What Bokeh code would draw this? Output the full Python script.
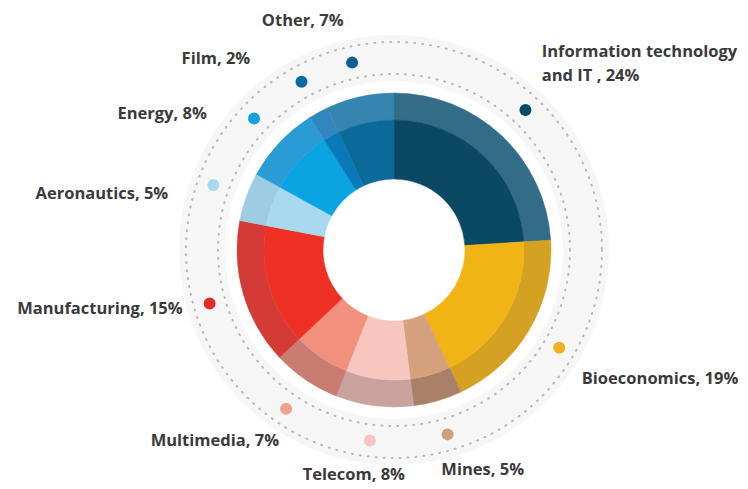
import math
from bokeh.plotting import figure
from bokeh.models import Range1d, ColumnDataSource
from bokeh.core.properties import value
from bokeh.embed import file_html
from bokeh.resources import INLINE

# ---- data ----
sectors = ["Information technology\nand IT", "Bioeconomics", "Mines", "Telecom", "Multimedia",
           "Manufacturing", "Aeronautics", "Energy", "Film", "Other"]
shares = [24, 19, 5, 8, 7, 15, 5, 8, 2, 7]
inner_colors = ["#0a4864", "#f0b514", "#d5a07c", "#f8c6bf", "#f1917d",
                "#ee3124", "#a9d9ef", "#0aa4e2", "#0a79b9", "#0c6a9b"]
outer_colors = ["#336c87", "#d5a122", "#a98068", "#c9a29e", "#c97c72",
                "#d43b36", "#9ecde2", "#2b9bd5", "#3086bd", "#3685b1"]
dot_colors = ["#0b4a66", "#f0b11e", "#caa07f", "#f7c6c2", "#f0a090",
              "#e02c2a", "#a9d9ef", "#14a0e0", "#0b6aa2", "#0c5f8b"]

# ---- layout (label placement tweaks, not data) ----
label_nudge_deg = [-5, 3.6, 4, 3, -3, 1, -5.5, -7, -8, -9]
label_radius = [239, 227, 224, 227, 222, 219, 233, 232, 240, 248]
label_align = ["left", "left", "left", "center", "right", "right", "right", "right", "right", "center"]

W, H = 748, 489
cx, cy = 393.5, 249.5
R_IN, R_MID, R_OUT = 71, 130, 157
R_DOT = 192

total = sum(shares)
starts, ends, mids = [], [], []
acc = 0.0
for s in shares:
    a0 = acc / total * 360.0
    acc += s
    a1 = acc / total * 360.0
    starts.append(math.radians(90 - a0))
    ends.append(math.radians(90 - a1))
    mids.append((a0 + a1) / 2)

p = figure(width=W, height=H, output_backend="svg", toolbar_location=None,
           x_range=Range1d(-cx, W - cx), y_range=Range1d(-(H - cy), cy),
           min_border=0, outline_line_color=None, background_fill_color="white")
p.axis.visible = False
p.grid.visible = False

# light band and dotted rings
p.annulus(x=0, y=0, inner_radius=169, outer_radius=215, fill_color="#f6f6f6", line_color=None)
for r in (176, 208):
    p.circle(x=0, y=0, radius=r, fill_color=None, line_color="#b8b8b8",
             line_width=2, line_dash="1 7", line_cap="round")

src = ColumnDataSource(dict(start=starts, end=ends, inner=inner_colors, outer=outer_colors))
p.annular_wedge(x=0, y=0, inner_radius=R_MID, outer_radius=R_OUT, start_angle="start",
                end_angle="end", direction="clock", fill_color="outer", line_color="outer",
                line_width=0.5, source=src)
p.annular_wedge(x=0, y=0, inner_radius=R_IN, outer_radius=R_MID, start_angle="start",
                end_angle="end", direction="clock", fill_color="inner", line_color="inner",
                line_width=0.5, source=src)

# dots and labels
dx, dy, lx, ly, txt = [], [], [], [], []
for name, s, m, nd, lr in zip(sectors, shares, mids, label_nudge_deg, label_radius):
    t = math.radians(m)
    dx.append(R_DOT * math.sin(t))
    dy.append(R_DOT * math.cos(t))
    tl = math.radians(m + nd)
    lx.append(lr * math.sin(tl))
    ly.append(lr * math.cos(tl))
    sep = " , " if "\n" in name else ", "
    txt.append(f"{name}{sep}{s}%")

p.scatter(x=dx, y=dy, size=12, marker="circle", fill_color=dot_colors, line_color=None)
lsrc = ColumnDataSource(dict(x=lx, y=ly, t=txt, a=label_align))
p.text(x="x", y="y", text="t", text_align="a", text_baseline="middle", source=lsrc,
       text_font=value("Open Sans"), text_font_size="16.5px", text_font_style="bold",
       text_color="#3a3a3a", text_line_height=1.05)

open("out.html", "w").write(file_html(p, INLINE))
